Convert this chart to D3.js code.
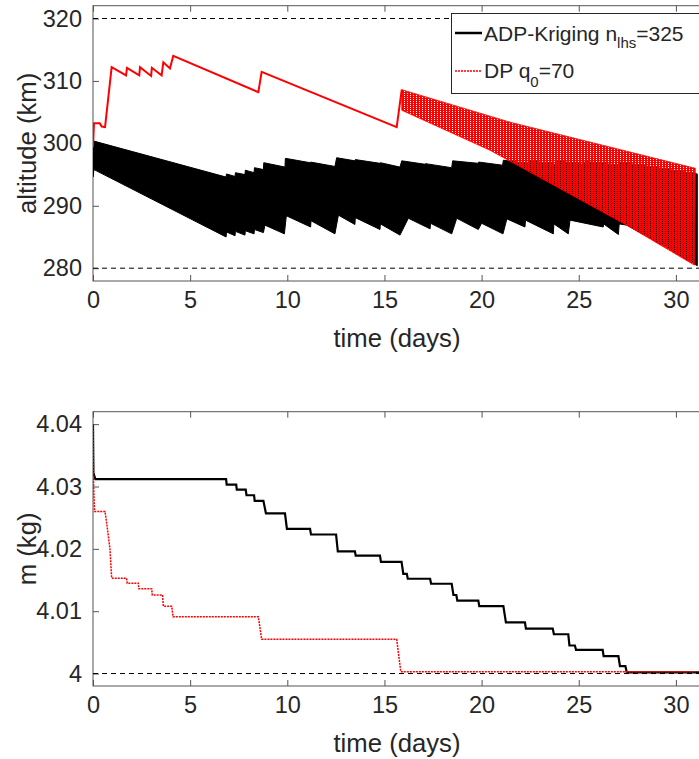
<!DOCTYPE html>
<html>
<head>
<meta charset="utf-8">
<script src="https://cdn.jsdelivr.net/npm/d3@7"></script>
<style>
  body { margin: 0; background: #fff; }
  text { font-family: "Liberation Sans", Arial, sans-serif; fill: #262626; }
</style>
</head>
<body>
<script>
"use strict";

// time axis ticks (days)
var timeTicks = [0, 5, 10, 15, 20, 25, 30];
var altTicks = [280, 290, 300, 310, 320];
var massTicks = [4, 4.01, 4.02, 4.03, 4.04];
var altBounds = [280, 320];
var massBound = 4;

// ADP-Kriging altitude envelope (t days, km)
var adpUpper = [[0, 300.4], [6.85, 294.6], [6.87, 295.1], [7.31, 294.7], [7.33, 295.3], [7.82, 295.0], [7.84, 295.7],
    [8.29, 295.3], [8.31, 296.1], [8.77, 295.8], [8.79, 296.9], [9.88, 296.2], [9.90, 297.6], [11.18, 296.9],
    [11.20, 297.0], [12.45, 296.3], [12.54, 297.7], [13.48, 297.2], [13.50, 297.4], [14.77, 296.8], [14.79, 296.9],
    [15.80, 296.2], [15.89, 297.2], [17.09, 296.65], [17.11, 296.75], [18.46, 296.1], [18.51, 297.2], [19.83, 296.8],
    [19.85, 297.0], [21.08, 296.5], [21.12, 297.3], [22.50, 296.7], [22.52, 297.2], [23.90, 296.6], [23.92, 297.2],
    [25.30, 296.6], [25.32, 297.1], [27.10, 296.5], [27.12, 297.0], [31.10, 295.1]];
var adpLower = [[0, 294.6], [0.05, 295.8], [6.85, 285.0], [6.87, 285.8], [7.31, 285.2], [7.33, 285.9], [7.82, 285.3],
    [7.84, 286.0], [8.29, 285.5], [8.31, 286.2], [8.77, 285.7], [8.85, 286.9], [9.85, 285.5], [9.95, 288.4],
    [11.20, 286.6], [11.22, 287.6], [12.45, 285.5], [12.63, 288.5], [13.48, 287.0], [13.50, 288.1], [14.77, 286.2],
    [14.79, 287.1], [15.80, 285.3], [16.23, 288.0], [17.35, 286.3], [17.37, 287.2], [18.46, 285.5], [18.72, 288.0],
    [19.83, 286.2], [20.00, 287.2], [21.10, 285.5], [21.30, 287.9], [22.23, 286.6], [22.26, 287.7], [23.69, 285.5],
    [23.72, 287.1], [24.46, 285.5], [24.55, 287.7], [26.26, 286.6], [26.28, 287.1], [27.04, 285.4], [27.08, 287.1],
    [27.47, 286.9], [29.20, 283.9], [31.10, 280.4]];

// DP altitude: thin part, then wide decaying band
var dpTrack = [[0, 299.4], [0.05, 303.2], [0.35, 303.2], [0.45, 302.7], [0.62, 302.6], [0.96, 312.2], [1.70, 310.9],
    [1.75, 312.1], [2.38, 310.9], [2.42, 312.2], [2.99, 310.8], [3.03, 312.1], [3.53, 310.9], [3.62, 313.0],
    [3.96, 312.0], [4.13, 314.0], [8.51, 308.2], [8.68, 311.45], [15.63, 302.6], [15.89, 308.6]];
var dpUpper = [[15.89, 308.6], [21.46, 303.4], [31.0, 296.0]];
var dpLower = [[15.89, 305.3], [20.43, 298.9], [27.47, 286.9], [30.95, 280.5]];

// propellant mass (t days, kg)
var adpMass = [[0, 4.0400], [0.02, 4.0322], [0.12, 4.0312], [6.85, 4.0312], [6.88, 4.0303], [7.37, 4.0303], [7.40, 4.0295],
    [7.86, 4.0295], [7.90, 4.0286], [8.29, 4.0286], [8.32, 4.0277], [8.77, 4.0277], [8.90, 4.0257], [9.88, 4.0257],
    [9.98, 4.0232], [11.17, 4.0232], [11.22, 4.0223], [12.51, 4.0223], [12.60, 4.0196], [13.48, 4.0196],
    [13.52, 4.0189], [14.77, 4.0189], [14.82, 4.0179], [15.88, 4.0179], [15.97, 4.0160], [16.15, 4.0160],
    [16.20, 4.0152], [17.35, 4.0152], [17.40, 4.0144], [18.46, 4.0144], [18.55, 4.0126], [18.70, 4.0126],
    [18.75, 4.0117], [19.83, 4.0117], [19.88, 4.0108], [21.12, 4.0108], [21.20, 4.0092], [21.25, 4.0082],
    [22.23, 4.0082], [22.28, 4.0072], [23.66, 4.0072], [23.72, 4.0063], [24.46, 4.0063], [24.52, 4.0045],
    [24.80, 4.0045], [24.86, 4.0038], [26.23, 4.0038], [26.28, 4.0028], [27.04, 4.0028], [27.12, 4.0012],
    [27.40, 4.0012], [27.47, 4.0002], [31.2, 4.0002]];
var dpMass = [[0, 4.0400], [0.03, 4.0303], [0.08, 4.0260], [0.62, 4.0260], [0.74, 4.0233], [0.875, 4.0199], [0.96, 4.0153],
    [1.73, 4.0153], [1.76, 4.0145], [2.33, 4.0145], [2.36, 4.0136], [3.02, 4.0136], [3.05, 4.0126], [3.58, 4.0126],
    [3.62, 4.0108], [4.05, 4.0108], [4.12, 4.0091], [8.51, 4.0091], [8.68, 4.0055], [15.63, 4.0055],
    [15.84, 4.0003], [31.0, 4.0003]];

var width = 699,
    height = 759;

var svg = d3.select("body").append("svg")
    .attr("width", width)
    .attr("height", height);

var defs = svg.append("defs");
var hatch = defs.append("pattern")
    .attr("id", "hatch")
    .attr("patternUnits", "userSpaceOnUse")
    .attr("width", 3)
    .attr("height", 2);
hatch.append("rect").attr("width", 2).attr("height", 2).attr("fill", "#ff0000");
hatch.append("rect").attr("x", 2).attr("width", 1).attr("height", 1).attr("fill", "#ff0000");

var xScale = d3.scaleLinear().domain([0, 31.25]).range([93, 700.2]);

function makePanel(id, top, bottom, yDomain, yTicks, yFormat, yLabel) {
    var yScale = d3.scaleLinear().domain(yDomain).range([bottom, top]);
    var g = svg.append("g");

    defs.append("clipPath").attr("id", id)
        .append("rect")
        .attr("x", 93).attr("y", top)
        .attr("width", 607).attr("height", bottom - top);

    g.append("g")
        .attr("transform", "translate(0," + bottom + ")")
        .call(d3.axisBottom(xScale).tickValues(timeTicks).tickSize(-6).tickSizeOuter(0).tickPadding(10));
    g.append("g")
        .attr("transform", "translate(0," + top + ")")
        .call(d3.axisTop(xScale).tickValues(timeTicks).tickSize(-6).tickSizeOuter(0).tickFormat(""));
    g.append("g")
        .attr("transform", "translate(93,0)")
        .call(d3.axisLeft(yScale).tickValues(yTicks).tickSize(-6).tickSizeOuter(0).tickPadding(11).tickFormat(yFormat));

    g.selectAll(".domain").remove();
    g.selectAll(".tick line").attr("stroke", "#555");
    g.selectAll(".tick text")
        .style("font-size", "23.5px")
        .attr("fill", "#262626");

    g.append("rect")
        .attr("x", 93).attr("y", top)
        .attr("width", 700.2 - 93).attr("height", bottom - top)
        .attr("fill", "none")
        .attr("stroke", "#555")
        .attr("stroke-width", 1);

    g.append("text")
        .attr("x", 397).attr("y", bottom + 66)
        .attr("text-anchor", "middle")
        .style("font-size", "25.7px")
        .text("time (days)");

    g.append("text")
        .attr("transform", "translate(36," + ((top + bottom) / 2) + ") rotate(-90)")
        .attr("text-anchor", "middle")
        .style("font-size", "25.7px")
        .text(yLabel);

    var plot = svg.append("g").attr("clip-path", "url(#" + id + ")");
    return { y: yScale, plot: plot };
}

// top panel: altitude
var alt = makePanel("clipAlt", 5.7, 281, [277.95, 322.05], altTicks, d3.format("d"), "altitude (km)");

var altLine = d3.line()
    .x(function(d) { return xScale(d[0]); })
    .y(function(d) { return alt.y(d[1]); });

alt.plot.selectAll(".bound")
    .data(altBounds)
    .enter().append("line")
        .attr("x1", 93).attr("x2", 700)
        .attr("y1", function(d) { return alt.y(d); })
        .attr("y2", function(d) { return alt.y(d); })
        .attr("stroke", "#000")
        .attr("stroke-width", 1)
        .attr("stroke-dasharray", "5,4");

alt.plot.append("path")
    .attr("d", altLine(adpUpper.concat(adpLower.slice().reverse())) + "Z")
    .attr("fill", "#000")
    .attr("stroke", "#000")
    .attr("stroke-width", 1);

alt.plot.append("path")
    .attr("d", altLine(dpTrack))
    .attr("fill", "none")
    .attr("stroke", "#ff0000")
    .attr("stroke-width", 2);

alt.plot.append("path")
    .attr("d", altLine(dpUpper.concat(dpLower.slice().reverse())) + "Z")
    .attr("fill", "url(#hatch)")
    .attr("stroke", "#ff0000")
    .attr("stroke-width", 0.8);

// legend
var legend = svg.append("g");
legend.append("rect")
    .attr("x", 451.5).attr("y", 13.5)
    .attr("width", 270).attr("height", 80)
    .attr("fill", "#fff")
    .attr("stroke", "#262626")
    .attr("stroke-width", 1);
legend.append("line")
    .attr("x1", 455).attr("x2", 482).attr("y1", 33).attr("y2", 33)
    .attr("stroke", "#000").attr("stroke-width", 2.5);
legend.append("line")
    .attr("x1", 455).attr("x2", 482).attr("y1", 71).attr("y2", 71)
    .attr("stroke", "#ff0000").attr("stroke-width", 1.5).attr("stroke-dasharray", "2,1");

var t1 = legend.append("text").attr("x", 484).attr("y", 40.5).style("font-size", "21px");
t1.append("tspan").text("ADP-Kriging n");
t1.append("tspan").attr("dy", 7).style("font-size", "15px").text("lhs");
t1.append("tspan").attr("dy", -7).text("=325");

var t2 = legend.append("text").attr("x", 484).attr("y", 77.5).style("font-size", "21px");
t2.append("tspan").text("DP q");
t2.append("tspan").attr("dy", 9).style("font-size", "15px").text("0");
t2.append("tspan").attr("dy", -9).text("=70");

// bottom panel: mass
var mass = makePanel("clipMass", 411.7, 686, [3.998, 4.042], massTicks, function(d) { return d3.format("~g")(d); }, "m (kg)");

var massLine = d3.line()
    .x(function(d) { return xScale(d[0]); })
    .y(function(d) { return mass.y(d[1]); });

mass.plot.append("line")
    .attr("x1", 93).attr("x2", 700)
    .attr("y1", mass.y(massBound)).attr("y2", mass.y(massBound))
    .attr("stroke", "#000")
    .attr("stroke-width", 1)
    .attr("stroke-dasharray", "5,4");

mass.plot.append("path")
    .attr("d", massLine(adpMass))
    .attr("fill", "none")
    .attr("stroke", "#000")
    .attr("stroke-width", 2.2);

mass.plot.append("path")
    .attr("d", massLine(dpMass))
    .attr("fill", "none")
    .attr("stroke", "#ff0000")
    .attr("stroke-width", 1.5)
    .attr("stroke-dasharray", "2,1");
</script>
</body>
</html>
